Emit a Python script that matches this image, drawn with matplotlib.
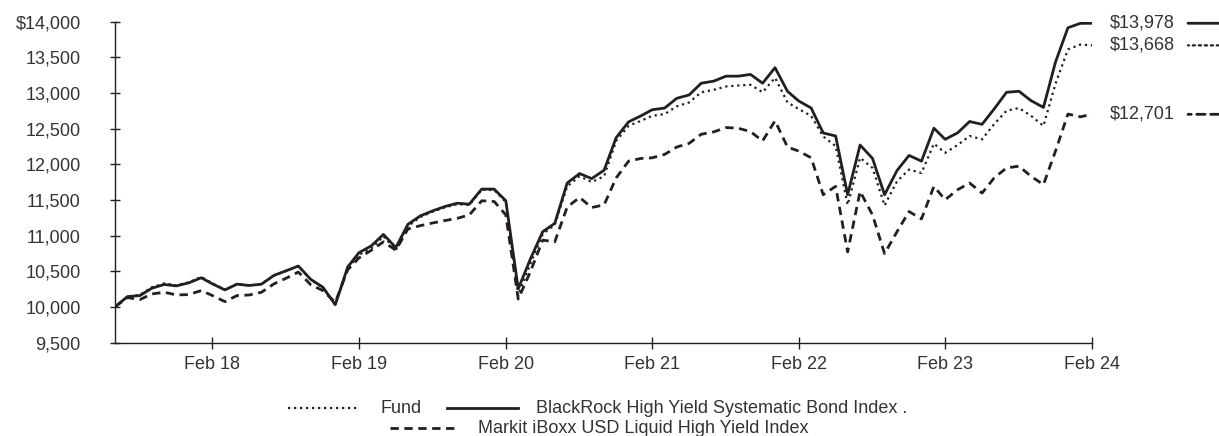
import numpy as np
import pandas as pd
import matplotlib
matplotlib.use("Agg")
import matplotlib.pyplot as plt
import matplotlib.dates as mdates
from matplotlib.transforms import ScaledTranslation
from matplotlib.lines import Line2D

plt.rcParams['font.family'] = ['Liberation Sans', 'DejaVu Sans']

dates = pd.date_range('2017-06-30', periods=81, freq='ME')

blackrock = [10000, 10144, 10158, 10262, 10314, 10294, 10337, 10408, 10322, 10238,
             10318, 10300, 10318, 10441, 10507, 10573, 10385, 10276, 10030, 10559,
             10760, 10856, 11016, 10832, 11157, 11276, 11347, 11407, 11454, 11440,
             11652, 11652, 11488, 10252, 10668, 11054, 11171, 11737, 11870, 11799,
             11917, 12373, 12595, 12680, 12765, 12789, 12925, 12973, 13137, 13166,
             13236, 13236, 13260, 13137, 13355, 13024, 12888, 12790, 12440, 12397,
             11573, 12270, 12082, 11573, 11912, 12124, 12044, 12506, 12350, 12440,
             12600, 12560, 12775, 13010, 13024, 12893, 12798, 13434, 13915, 13977,
             13978]

fund = [10000, 10140, 10170, 10275, 10330, 10300, 10345, 10420, 10330, 10240,
        10320, 10300, 10320, 10440, 10505, 10570, 10380, 10270, 10030, 10540,
        10730, 10820, 10990, 10800, 11130, 11260, 11335, 11395, 11440, 11430,
        11640, 11640, 11470, 10158, 10600, 11020, 11150, 11690, 11832, 11751,
        11832, 12327, 12539, 12610, 12680, 12704, 12812, 12868, 13010, 13044,
        13091, 13105, 13115, 13010, 13214, 12868, 12775, 12680, 12390, 12256,
        11431, 12091, 11949, 11422, 11761, 11926, 11878, 12289, 12161, 12270,
        12397, 12350, 12563, 12751, 12789, 12680, 12539, 13129, 13610, 13680,
        13668]

markit = [10000, 10130, 10102, 10181, 10205, 10167, 10172, 10229, 10158, 10073,
          10158, 10167, 10205, 10322, 10403, 10488, 10309, 10229, 10064, 10520,
          10686, 10795, 10912, 10795, 11092, 11139, 11177, 11210, 11242, 11290,
          11488, 11478, 11290, 10110, 10488, 10936, 10912, 11400, 11535, 11393,
          11431, 11808, 12044, 12082, 12091, 12139, 12242, 12294, 12421, 12454,
          12515, 12506, 12458, 12327, 12610, 12242, 12185, 12091, 11573, 11690,
          10771, 11620, 11290, 10747, 11054, 11337, 11233, 11690, 11502, 11643,
          11737, 11596, 11808, 11949, 11973, 11832, 11714, 12185, 12704, 12666,
          12701]

end_labels = ['$13,978', '$13,668', '$12,701']
y_ticks = list(range(9500, 14001, 500))
y_labels = ['9,500', '10,000', '10,500', '11,000', '11,500', '12,000', '12,500',
            '13,000', '13,500', '$14,000']

line_c = '#231f20'
text_c = '#333333'
fs = 13

fig = plt.figure(figsize=(12.19, 4.36), dpi=100)
ax = fig.add_axes([115/1219, 1 - 342.5/436, (1092-115)/1219, (342.5-21.7)/436])

styles = {
    'fund': dict(linestyle=(0, (1, 1.7)), lw=1.6),
    'br': dict(linestyle='-', lw=2.0),
    'mk': dict(linestyle=(0, (3, 2)), lw=2.0),
}
ax.plot(dates, markit, color=line_c, **styles['mk'])
ax.plot(dates, fund, color=line_c, **styles['fund'])
ax.plot(dates, blackrock, color=line_c, **styles['br'])

ax.set_xlim(dates[0], dates[-1])
ax.set_ylim(9500, 14000)
ax.set_yticks(y_ticks)
ax.set_yticklabels(y_labels)
xt = dates[8::12]
ax.set_xticks(xt)
ax.set_xticklabels([d.strftime('%b %y') for d in xt])

for s in ['top', 'right']:
    ax.spines[s].set_visible(False)
for s in ['left', 'bottom']:
    ax.spines[s].set_color('#231f20')
    ax.spines[s].set_linewidth(1.0)
ax.tick_params(axis='y', direction='inout', length=7.2, width=1.0, pad=21,
               labelsize=fs, labelcolor=text_c, color='#231f20')
ax.tick_params(axis='x', direction='inout', length=9, width=1.0, pad=5,
               labelsize=fs, labelcolor=text_c, color='#231f20')

# end labels with line samples
x_end = mdates.date2num(dates[-1])
series = [(blackrock, 'br'), (fund, 'fund'), (markit, 'mk')]
for (vals, key), lab in zip(series, end_labels):
    ax.annotate(lab, xy=(x_end, vals[-1]), xytext=(18*0.72, 0),
                textcoords='offset points', va='center', ha='left',
                fontsize=fs, color=text_c, annotation_clip=False)
    t0 = ax.transData + ScaledTranslation(96/100, 0, fig.dpi_scale_trans)
    t1 = ax.transData + ScaledTranslation(127/100, 0, fig.dpi_scale_trans)
    ax.annotate('', xy=(x_end, vals[-1]), xycoords=t0,
                xytext=(x_end, vals[-1]), textcoords=t1,
                arrowprops=dict(arrowstyle='-', color=line_c, lw=styles[key]['lw'],
                                linestyle=styles[key]['linestyle'],
                                shrinkA=0, shrinkB=0),
                annotation_clip=False)

# legend
def leg_item(x0, x1, y, key, label, tx):
    fig.add_artist(Line2D([x0/1219, x1/1219], [1 - y/436, 1 - y/436],
                          color=line_c, **styles[key]))
    fig.text(tx/1219, 1 - y/436, label, fontsize=fs, color=text_c,
             va='center', ha='left')

leg_item(288, 357, 408, 'fund', 'Fund', 380)
leg_item(447, 518, 408, 'br', 'BlackRock High Yield Systematic Bond Index .', 536)
leg_item(390, 458, 428, 'mk', 'Markit iBoxx USD Liquid High Yield Index', 478)

fig.savefig('out.png', dpi=100)
